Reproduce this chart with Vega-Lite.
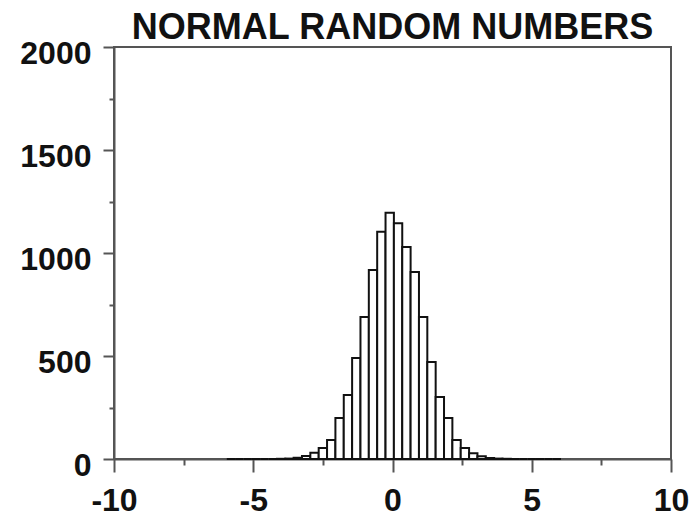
{
  "$schema": "https://vega.github.io/schema/vega-lite/v6.json",
  "width": 557,
  "height": 412,
  "autosize": {"type": "none"},
  "padding": {"left": 114, "top": 47, "right": 22, "bottom": 59},
  "title": {
    "text": "NORMAL RANDOM NUMBERS",
    "font": "Liberation Sans",
    "fontSize": 36,
    "fontWeight": "bold",
    "color": "#111",
    "offset": -10,
    "anchor": "middle"
  },
  "config": {
    "view": {"stroke": "#555", "strokeWidth": 2},
    "axis": {
      "domainColor": "#555",
      "domainWidth": 2,
      "tickColor": "#555",
      "tickWidth": 2,
      "grid": false,
      "labelFont": "Liberation Sans",
      "labelFontSize": 32,
      "labelFontWeight": "bold",
      "labelColor": "#111",
      "title": null
    }
  },
  "data": {
    "values": [
      {"start": -5.95, "end": -5.65, "count": 0},
      {"start": -5.65, "end": -5.35, "count": 0},
      {"start": -5.35, "end": -5.05, "count": 0},
      {"start": -5.05, "end": -4.75, "count": 0},
      {"start": -4.75, "end": -4.45, "count": 0},
      {"start": -4.45, "end": -4.15, "count": 0},
      {"start": -4.15, "end": -3.85, "count": 1},
      {"start": -3.85, "end": -3.55, "count": 2},
      {"start": -3.55, "end": -3.25, "count": 6},
      {"start": -3.25, "end": -2.95, "count": 14},
      {"start": -2.95, "end": -2.65, "count": 30},
      {"start": -2.65, "end": -2.35, "count": 53},
      {"start": -2.35, "end": -2.05, "count": 92},
      {"start": -2.05, "end": -1.75, "count": 199},
      {"start": -1.75, "end": -1.45, "count": 311},
      {"start": -1.45, "end": -1.15, "count": 490},
      {"start": -1.15, "end": -0.85, "count": 689},
      {"start": -0.85, "end": -0.55, "count": 917},
      {"start": -0.55, "end": -0.25, "count": 1103},
      {"start": -0.25, "end": 0.05, "count": 1195},
      {"start": 0.05, "end": 0.35, "count": 1145},
      {"start": 0.35, "end": 0.65, "count": 1029},
      {"start": 0.65, "end": 0.95, "count": 908},
      {"start": 0.95, "end": 1.25, "count": 689},
      {"start": 1.25, "end": 1.55, "count": 471},
      {"start": 1.55, "end": 1.85, "count": 301},
      {"start": 1.85, "end": 2.15, "count": 199},
      {"start": 2.15, "end": 2.45, "count": 92},
      {"start": 2.45, "end": 2.75, "count": 53},
      {"start": 2.75, "end": 3.05, "count": 28},
      {"start": 3.05, "end": 3.35, "count": 13},
      {"start": 3.35, "end": 3.65, "count": 5},
      {"start": 3.65, "end": 3.95, "count": 2},
      {"start": 3.95, "end": 4.25, "count": 1},
      {"start": 4.25, "end": 4.55, "count": 0},
      {"start": 4.55, "end": 4.85, "count": 0},
      {"start": 4.85, "end": 5.15, "count": 0},
      {"start": 5.15, "end": 5.45, "count": 0},
      {"start": 5.45, "end": 5.75, "count": 0},
      {"start": 5.75, "end": 6.05, "count": 0}
    ]
  },
  "layer": [
    {
      "mark": {"type": "rect", "fill": "white", "stroke": "#111", "strokeWidth": 2},
      "encoding": {
        "x": {
          "field": "start",
          "type": "quantitative",
          "scale": {"domain": [-10, 10], "nice": false, "zero": false},
          "axis": {
            "values": [-10, -5, 0, 5, 10],
            "tickSize": 13,
            "labelPadding": 13,
            "labelExpr": "'' + datum.value",
            "labelFlush": false,
            "labelOverlap": false
          }
        },
        "x2": {"field": "end"},
        "y": {
          "field": "count",
          "type": "quantitative",
          "scale": {"domain": [0, 2000], "nice": false},
          "axis": {
            "values": [0, 500, 1000, 1500, 2000],
            "tickSize": 11,
            "labelPadding": 12,
            "labelOffset": 6,
            "labelOverlap": false,
            "labelFlush": false,
            "format": "d"
          }
        },
        "y2": {"datum": 0}
      }
    },
    {
      "mark": {"type": "rect", "opacity": 0},
      "encoding": {
        "x": {
          "field": "start",
          "type": "quantitative",
          "axis": {
            "orient": "bottom",
            "values": [-7.5, -2.5, 2.5, 7.5],
            "tickSize": 6,
            "labels": false,
            "domain": false
          }
        },
        "x2": {"field": "end"},
        "y": {
          "field": "count",
          "type": "quantitative",
          "axis": {
            "orient": "left",
            "values": [250, 750, 1250, 1750],
            "tickSize": 5,
            "labels": false,
            "domain": false
          }
        },
        "y2": {"datum": 0}
      }
    }
  ],
  "resolve": {"axis": {"x": "independent", "y": "independent"}}
}
